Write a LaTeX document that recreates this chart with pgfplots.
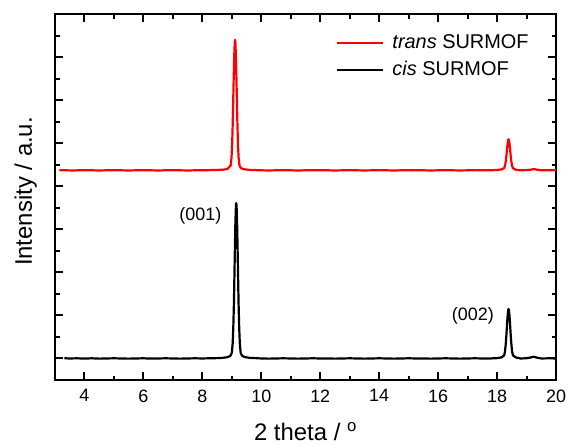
\documentclass[border=0pt]{standalone}
\usepackage{fontspec}
\setmainfont{Liberation Sans}
\usepackage{pgfplots}
\pgfplotsset{compat=1.18}

% XRD patterns of the two SURMOF samples
\pgfplotstableread{
x y
3.32 0.005
3.50 0.000
3.75 0.004
4.00 -0.003
4.25 0.004
4.50 -0.004
4.75 0.000
5.00 0.004
5.25 0.000
5.50 -0.004
5.75 0.000
6.00 0.004
6.25 -0.003
6.50 0.000
6.75 0.004
7.00 0.000
7.25 -0.004
7.50 0.000
7.75 0.004
8.00 0.000
8.25 0.005
8.50 0.008
8.70 0.015
8.85 0.03
8.95 0.06
9.00 0.13
9.03 0.36
9.05 0.72
9.07 1.25
9.08 1.61
9.10 2.39
9.12 3.12
9.14 3.56
9.15 3.61
9.16 3.56
9.18 3.12
9.20 2.39
9.22 1.61
9.23 1.25
9.25 0.72
9.27 0.36
9.30 0.13
9.35 0.06
9.45 0.03
9.60 0.015
9.80 0.008
10.00 0.000
10.25 -0.004
10.50 0.000
10.75 0.004
11.00 0.000
11.25 -0.004
11.50 0.000
11.75 0.004
12.00 0.000
12.25 0.000
12.50 -0.004
12.75 0.000
13.00 0.004
13.25 0.000
13.50 -0.004
13.75 0.000
14.00 0.004
14.25 0.000
14.50 -0.004
14.75 0.000
15.00 0.004
15.25 0.000
15.50 0.000
15.75 -0.004
16.00 0.000
16.25 0.004
16.50 0.000
16.75 -0.004
17.00 0.000
17.25 0.004
17.50 0.000
17.75 0.000
18.00 0.008
18.15 0.025
18.24 0.07
18.27 0.16
18.30 0.38
18.32 0.58
18.34 0.81
18.36 1.01
18.38 1.13
18.39 1.15
18.40 1.13
18.42 1.01
18.44 0.81
18.46 0.58
18.48 0.38
18.51 0.16
18.54 0.07
18.65 0.02
18.80 0.000
19.00 0.005
19.15 0.025
19.25 0.04
19.35 0.02
19.50 0.000
19.75 0.004
20.00 0.000
}\cis

\pgfplotstableread{
x y
3.15 4.374
3.40 4.370
3.60 4.366
3.80 4.370
4.00 4.374
4.25 4.370
4.50 4.366
4.75 4.370
5.00 4.374
5.25 4.370
5.50 4.366
5.75 4.370
6.00 4.374
6.25 4.370
6.50 4.366
6.75 4.370
7.00 4.374
7.25 4.370
7.50 4.366
7.75 4.370
8.00 4.370
8.25 4.374
8.50 4.378
8.70 4.385
8.85 4.40
8.96 4.48
8.99 4.67
9.01 4.95
9.03 5.44
9.04 5.74
9.06 6.40
9.08 6.99
9.10 7.35
9.11 7.40
9.12 7.35
9.14 6.99
9.16 6.40
9.18 5.74
9.19 5.44
9.21 4.95
9.23 4.67
9.26 4.48
9.31 4.42
9.41 4.395
9.60 4.38
9.80 4.375
10.00 4.370
10.25 4.366
10.50 4.370
10.75 4.374
11.00 4.370
11.25 4.366
11.50 4.370
11.75 4.374
12.00 4.370
12.25 4.370
12.50 4.366
12.75 4.370
13.00 4.374
13.25 4.370
13.50 4.366
13.75 4.370
14.00 4.374
14.25 4.370
14.50 4.366
14.75 4.370
15.00 4.374
15.25 4.370
15.50 4.370
15.75 4.366
16.00 4.370
16.25 4.374
16.50 4.370
16.75 4.366
17.00 4.370
17.25 4.374
17.50 4.370
17.75 4.370
18.00 4.378
18.15 4.39
18.24 4.42
18.27 4.47
18.30 4.60
18.32 4.73
18.34 4.88
18.36 5.00
18.38 5.08
18.39 5.09
18.40 5.08
18.42 5.00
18.44 4.88
18.46 4.73
18.48 4.60
18.51 4.47
18.54 4.42
18.65 4.38
18.80 4.370
19.00 4.375
19.15 4.385
19.25 4.40
19.35 4.385
19.50 4.370
19.75 4.374
20.00 4.370
}\trans

\begin{document}
\begin{tikzpicture}
\path[use as bounding box] (-55bp,-66bp) rectangle (513bp,380bp);
\begin{axis}[
  scale only axis,
  width=501bp, height=366bp,
  xmin=3, xmax=20, ymin=-0.5, ymax=8,
  xtick={4,6,...,20}, minor x tick num=1,
  ytick={0,1,...,8}, minor y tick num=1,
  yticklabels={},
  tick align=inside,
  major tick length=8bp, minor tick length=4.5bp,
  every tick/.style={black, line width=2bp},
  axis line style={line width=2.2bp},
  /pgf/number format/assume math mode=true,
  tick label style={font=\fontsize{18}{21}\selectfont},
  xticklabel style={yshift=-6bp},
  xlabel={2 theta / \textsuperscript{o}},
  ylabel={Intensity / a.u.},
  label style={font=\fontsize{24}{28}\selectfont},
  xlabel style={at={(axis description cs:0.5,0)}, anchor=base, yshift=-60.5bp},
  ylabel style={at={(axis description cs:-0.046,0.515)}, anchor=base},
  legend style={at={(axis description cs:0.561,0.945)}, anchor=north west,
    draw=none, fill=none, inner sep=0pt, row sep=9bp,
    font=\fontsize{20}{24}\selectfont,
    nodes={inner sep=0pt, text height=14bp, text depth=4bp}},
  legend cell align=left,
  legend image code/.code={\draw[#1] (0bp,0bp) -- (46bp,0bp);},
]
\addplot[red, line width=2.2bp, line join=round] table {\trans};
\addlegendentry{\hspace{8bp}\textit{trans} SURMOF}
\addplot[black, line width=2.2bp, line join=round] table {\cis};
\addlegendentry{\hspace{8bp}\textit{cis} SURMOF}
\node[anchor=east, font=\fontsize{18}{21}\selectfont] at (axis cs:8.76,3.31) {(001)};
\node[anchor=east, font=\fontsize{18}{21}\selectfont] at (axis cs:18.01,0.98) {(002)};
\end{axis}
\end{tikzpicture}
\end{document}
